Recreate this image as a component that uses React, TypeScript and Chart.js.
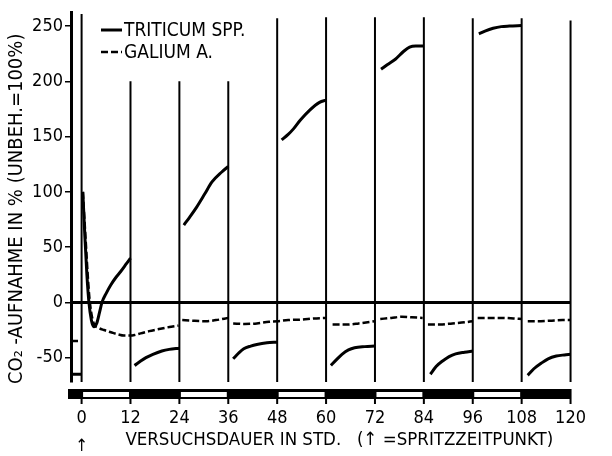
import React, { useEffect, useRef } from 'react';
import { Chart, registerables } from 'chart.js';
Chart.register(...registerables);

const FONT = "'Liberation Sans Narrow', 'DejaVu Sans Condensed', 'Liberation Sans', sans-serif";

// axes
const hourTicks = [0, 12, 24, 36, 48, 60, 72, 84, 96, 108, 120];
const valueTicks = [-50, 0, 50, 100, 150, 200, 250];
const xMin = -2.6;
const xMax = 120;
const yMin = -72;
const yMax = 262;

// light (white) periods of the day/night bar, 12 h each
const lightStarts = [0, 24, 48, 72, 96];

// vertical divider lines and their top values
const dividerHours = [0, 12, 24, 36, 48, 60, 72, 84, 96, 108, 120];
const dividerTops = [261, 200, 200, 200, 257, 258, 258, 258, 257, 257, 255];

const seriesNames = ['TRITICUM SPP.', 'GALIUM A.'];

// Triticum spp. (solid) – null separates measurement segments
const triticumT = [
  -2.6, 0, null,
  0.3, 0.8, 1.3, 1.8, 2.4, 3, 3.7, 4.4, 5, 6, 7.2, 8.5, 9.6, 11, 12, null,
  13, 14.5, 15.8, 17.5, 19.7, 21.5, 24, null,
  25.1, 26.5, 28.2, 30.2, 32, 34.4, 36, null,
  37.2, 38.5, 39.8, 41.5, 43, 45.5, 48, null,
  49.1, 50.7, 52, 53.7, 56, 58.4, 60, null,
  61.2, 62.5, 63.9, 65.5, 67, 69.5, 72, null,
  73.5, 75, 77, 79, 80.5, 82, 84, null,
  85.6, 87, 88.6, 90.2, 91.8, 94, 96, null,
  97.5, 99, 101, 103, 105, 108, null,
  109.5, 111, 112.8, 114.5, 116.5, 118.5, 120,
];
const triticumV = [
  -65, -65, null,
  100, 60, 25, 0, -16, -22, -19, -9, 0, 8, 16, 23, 28, 35, 40, null,
  -57, -53, -50, -47, -44, -42.5, -41.5, null,
  70, 77, 86, 98, 109, 118, 123, null,
  -51, -46, -42, -39.5, -38, -36.5, -36, null,
  147, 152, 157, 165, 174, 181, 183, null,
  -57, -52, -47, -43, -41, -40, -39.5, null,
  211, 215, 220, 227, 231, 232, 232, null,
  -65, -58, -53, -49, -46.5, -45, -44, null,
  243, 245.5, 248, 249.5, 250, 250.5, null,
  -66, -60, -55, -51, -48.5, -47.5, -47,
];

// Galium a. (dashed)
const galiumT = [
  -2.6, 0, null,
  0.3, 0.7, 1.1, 1.5, 1.9, 2.4, 3, 4.2, 5.5, 7.2, 9, 10.4, 12, 13, 14.5, 16.6, 18.5, 20.5, 22, 23.8, null,
  24.7, 27, 30.5, 33, 36, null,
  37.2, 40, 43, 46, 48, 50.7, 54, 57, 60, null,
  61.6, 65, 68, 72, null,
  73.3, 76, 78.6, 81, 83.7, null,
  85, 88, 91, 94, 96, null,
  97.2, 100, 103, 106, 108, null,
  109.5, 112, 115, 118, 120,
];
const galiumV = [
  -35, -35, null,
  100, 75, 50, 25, 5, -10, -19, -23, -25, -27, -29, -30, -30, -29.5, -28, -26, -24.5, -23, -22, -21, null,
  -16, -16.5, -17, -16, -14, null,
  -19, -19.5, -19, -17.5, -17, -16, -15.5, -14.5, -14, null,
  -20, -20, -19, -17, null,
  -15, -14, -13, -13.5, -14, null,
  -20, -20, -19, -18, -17, null,
  -14, -14, -14, -14.5, -15, null,
  -17, -17, -16.5, -16, -16,
];

function toPoints(ts: (number | null)[], vs: (number | null)[]) {
  return ts.map((t, i) => ({ x: t === null ? (ts[i - 1] as number) : t, y: vs[i] }));
}

const decorPlugin = {
  id: 'decor',
  afterDraw(chart: any) {
    const { ctx, chartArea, scales } = chart;
    const xs = scales.x;
    ctx.save();
    // day / night bar
    const y0 = chartArea.bottom + 7;
    const h = 10;
    ctx.fillStyle = '#000';
    ctx.fillRect(chartArea.left - 3, y0, xs.getPixelForValue(xMax) + 1 - (chartArea.left - 3), h);
    ctx.fillStyle = '#fff';
    lightStarts.forEach((s) => {
      const a = xs.getPixelForValue(s) + 1.5;
      const b = xs.getPixelForValue(s + 12) - 1.5;
      ctx.fillRect(a, y0 + 3, b - a, h - 5);
    });
    // tick marks below the bar
    ctx.strokeStyle = '#000';
    ctx.lineWidth = 2;
    hourTicks.forEach((v) => {
      const px = xs.getPixelForValue(v);
      ctx.beginPath();
      ctx.moveTo(px, y0 + h);
      ctx.lineTo(px, y0 + h + 5);
      ctx.stroke();
    });
    // spray time arrow
    ctx.fillStyle = '#000';
    ctx.font = `17px ${FONT}`;
    ctx.textAlign = 'center';
    ctx.textBaseline = 'middle';
    ctx.fillText('↑', xs.getPixelForValue(0), 447);
    // legend
    const ds = chart.data.datasets;
    const lx = 101;
    const rows = [30, 52];
    [0, 1].forEach((i) => {
      const d = ds[i];
      ctx.beginPath();
      ctx.setLineDash(d.borderDash || []);
      ctx.lineWidth = d.borderWidth;
      ctx.moveTo(lx, rows[i]);
      ctx.lineTo(lx + 21, rows[i]);
      ctx.stroke();
      ctx.setLineDash([]);
      ctx.font = `19px ${FONT}`;
      ctx.textAlign = 'left';
      ctx.fillText(d.label, lx + 23, rows[i] + 1);
    });
    ctx.restore();
  },
};

export default function App() {
  const ref = useRef<HTMLCanvasElement>(null);
  useEffect(() => {
    if (!ref.current) return;
    const dividerData: any[] = [];
    dividerHours.forEach((hh, i) => {
      dividerData.push({ x: hh, y: yMin }, { x: hh, y: dividerTops[i] }, { x: hh, y: null });
    });
    const chart = new Chart(ref.current, {
      type: 'line',
      data: {
        datasets: [
          {
            label: seriesNames[0],
            data: toPoints(triticumT, triticumV),
            borderColor: '#000',
            borderWidth: 3,
            cubicInterpolationMode: 'monotone',
            spanGaps: false,
            pointRadius: 0,
          },
          {
            label: seriesNames[1],
            data: toPoints(galiumT, galiumV),
            borderColor: '#000',
            borderWidth: 2.5,
            borderDash: [7, 3],
            cubicInterpolationMode: 'monotone',
            spanGaps: false,
            pointRadius: 0,
          },
          {
            label: 'zero',
            data: [{ x: xMin, y: 0 }, { x: xMax, y: 0 }],
            borderColor: '#000',
            borderWidth: 3,
            pointRadius: 0,
          },
          {
            label: 'dividers',
            data: dividerData,
            borderColor: '#000',
            borderWidth: 2,
            spanGaps: false,
            pointRadius: 0,
            clip: 4,
          },
        ],
      } as any,
      options: {
        responsive: false,
        animation: false,
        layout: { padding: { left: 0, top: 10, right: 14, bottom: 0 } },
        plugins: { legend: { display: false }, tooltip: { enabled: false } },
        scales: {
          x: {
            type: 'linear',
            min: xMin,
            max: xMax,
            afterBuildTicks: (s: any) => {
              s.ticks = hourTicks.map((v) => ({ value: v }));
            },
            afterFit: (s: any) => {
              s.height = 74;
            },
            grid: { display: false, drawTicks: false, tickLength: 0 },
            border: { display: false },
            ticks: {
              padding: 26,
              color: '#000',
              autoSkip: false,
              maxRotation: 0,
              font: { family: FONT, size: 18 },
            },
            title: {
              display: true,
              text: '       VERSUCHSDAUER IN STD.   (↑ =SPRITZZEITPUNKT)',
              color: '#000',
              font: { family: FONT, size: 18.5 },
              padding: { top: 0, bottom: 5 },
            },
          },
          y: {
            type: 'linear',
            min: yMin,
            max: yMax,
            afterBuildTicks: (s: any) => {
              s.ticks = valueTicks.map((v) => ({ value: v }));
            },
            afterFit: (s: any) => {
              s.width = 71;
            },
            grid: { drawOnChartArea: false, drawTicks: true, tickLength: 6, color: '#000', lineWidth: 1.5 },
            border: { display: true, color: '#000', width: 3 },
            ticks: {
              padding: 2,
              color: '#000',
              autoSkip: false,
              font: { family: FONT, size: 18 },
            },
            title: {
              display: true,
              text: 'CO₂ -AUFNAHME IN % (UNBEH.=100%)    ',
              color: '#000',
              font: { family: FONT, size: 20 },
              padding: { top: 5, bottom: 0 },
            },
          },
        },
      } as any,
      plugins: [decorPlugin],
    });
    return () => chart.destroy();
  }, []);
  return (
    <div style={{ position: 'fixed', left: 0, top: 0, width: 612, height: 456, background: '#fff' }}>
      <canvas ref={ref} width={612} height={456} style={{ width: 612, height: 456 }} />
    </div>
  );
}
